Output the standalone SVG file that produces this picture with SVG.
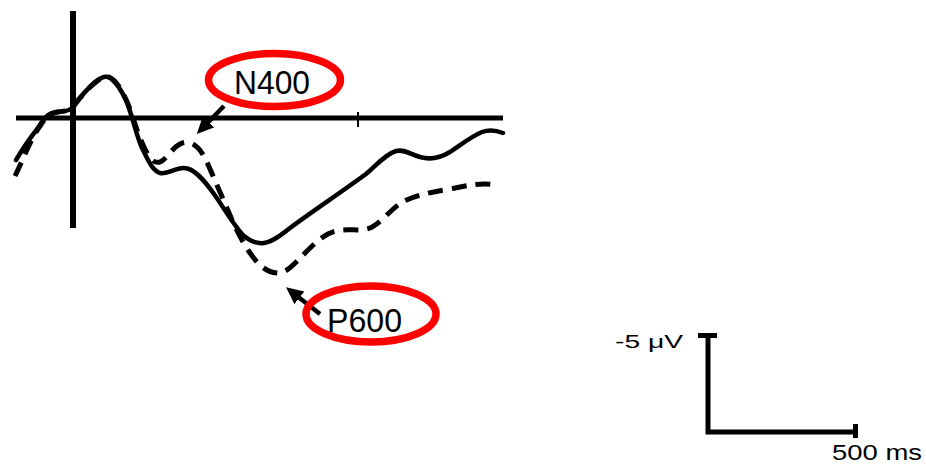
<svg xmlns="http://www.w3.org/2000/svg" width="926" height="464" viewBox="0 0 926 464">
<style>
.ax{stroke:#000;fill:none;stroke-width:5}
.solid{stroke:#000;fill:none;stroke-width:4.5;stroke-linejoin:round;stroke-linecap:round}
.dash{stroke:#000;fill:none;stroke-width:5;stroke-dasharray:15 9}
.oval{stroke:#f00;fill:none;stroke-width:7.5}
.lbl{font-family:"Liberation Sans",Arial,sans-serif;fill:#000}
.arr{stroke:#000;stroke-width:4.5;fill:none}
</style>
<defs>
<marker id="ah" markerUnits="userSpaceOnUse" markerWidth="18" markerHeight="18" viewBox="0 0 18 18" refX="3" refY="8" orient="auto">
<path d="M0,0 L17,8 L0,16 z" fill="#000"/>
</marker>
</defs>
<rect width="926" height="464" fill="#fff"/>
<g id="axes">
<line class="ax" x1="16" y1="118" x2="503" y2="118"/>
<line class="ax" x1="73" y1="11" x2="73" y2="228" style="stroke-width:6"/>
<line class="ax" x1="358" y1="112" x2="358" y2="127" style="stroke-width:2"/>
</g>
<g id="waveforms">
<path id="solid-wave" class="solid" d="M16,160 C22,150 30,138 38,128 C44,118 48,113 56,112 C64,111 68,112 72,108 C78,100 86,90 95,82 C100,78 104,76 108,77 C114,79 120,88 126,100 C132,114 136,135 142,148 C148,160 152,170 160,173 C168,175 174,168 184,168 C194,168 204,180 214,194 C224,208 234,226 244,236 C250,241 256,244 264,243 C272,242 280,236 290,228 C310,213 340,193 366,174 C376,166 384,155 396,151 C404,149 410,154 420,157 C430,160 440,158 450,152 C462,144 472,136 482,132 C490,129 498,131 503,133"/>
<path id="dashed-wave" class="dash" d="M15,176 C22,162 30,140 40,126 C46,117 50,113 58,112 C65,111 69,111 73,107 C79,99 87,89 96,82 C101,78 105,76 109,77 C116,80 122,90 128,104 C134,120 138,135 144,147 C149,157 153,164 160,162 C166,160 172,148 180,144 C186,141 192,142 198,148 C206,156 212,175 220,192 C228,210 236,232 248,250 C256,262 264,272 277,273 C286,274 294,264 306,252 C316,242 324,234 336,231 C348,228 360,232 370,228 C380,224 390,210 402,202 C414,196 430,192 450,189 C466,186 480,182 497,185"/>
</g>
<g id="connectors">
<line class="arr" x1="224" y1="106" x2="206.5" y2="124" marker-end="url(#ah)"/>
<line class="arr" x1="320" y1="314" x2="297" y2="296" marker-end="url(#ah)"/>
</g>
<g id="n400">
<ellipse class="oval" cx="274.5" cy="80" rx="66" ry="26.5"/>
<text class="lbl" x="234" y="94" font-size="33" textLength="76" lengthAdjust="spacingAndGlyphs">N400</text>
</g>
<g id="p600">
<ellipse class="oval" cx="371" cy="314" rx="65" ry="28"/>
<text class="lbl" x="327" y="332" font-size="33" textLength="75" lengthAdjust="spacingAndGlyphs">P600</text>
</g>
<g id="scale-bar">
<path class="ax" d="M698,335.5 H717 M708,335 V432 H857 M855.5,424 V438"/>
<text class="lbl" x="615" y="348" font-size="19" textLength="68" lengthAdjust="spacingAndGlyphs">-5 μV</text>
<text class="lbl" x="832" y="460" font-size="22" textLength="90" lengthAdjust="spacingAndGlyphs">500 ms</text>
</g>
</svg>
